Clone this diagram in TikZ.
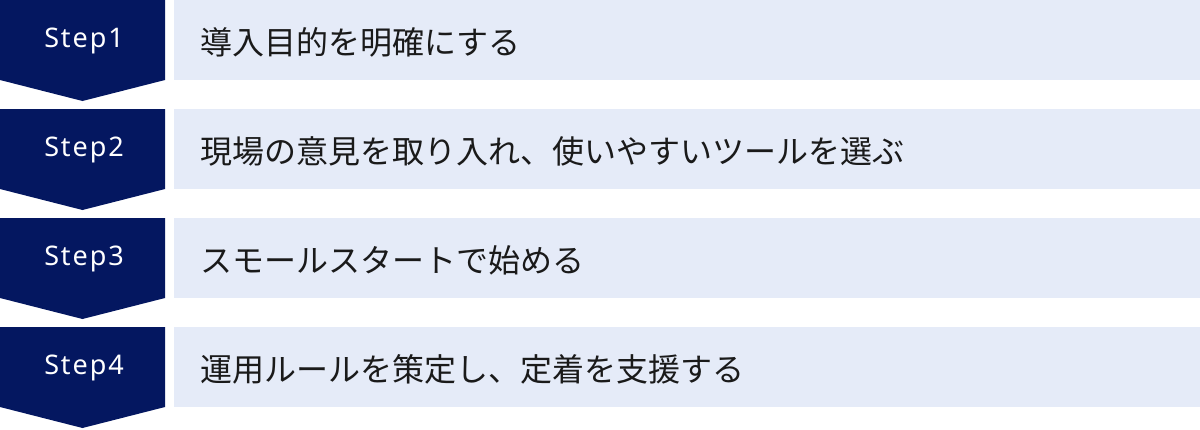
\documentclass[tikz,border=0pt]{standalone}
\usepackage{fontspec}
\newfontfamily\jpfont{Noto Sans CJK JP}
\newfontfamily\stepfont[LetterSpace=7]{Noto Sans}
\definecolor{stepnavy}{RGB}{4,23,96}
\definecolor{barblue}{RGB}{229,235,248}
\definecolor{bartextcol}{RGB}{26,26,26}
\def\rowgap{109}

\begin{document}
\begin{tikzpicture}[
    x=1pt,y=-1pt,
    stepshape/.style={fill=stepnavy},
    steplabel/.style={text=white,font=\stepfont\fontsize{27}{32}\selectfont},
    bar/.style={fill=barblue,anchor=north west,inner sep=0pt,minimum width=1026pt,minimum height=80pt},
    bartext/.style={anchor=west,inner sep=0pt,text=bartextcol,font=\jpfont\fontsize{32}{36}\selectfont}
  ]
  \useasboundingbox (0,0) rectangle (1200,429);

  \foreach \i/\task in {1/導入目的を明確にする,2/現場の意見を取り入れ、使いやすいツールを選ぶ,3/スモールスタートで始める,4/運用ルールを策定し、定着を支援する}{
    \pgfmathsetmacro\top{(\i-1)*\rowgap}
    \fill[stepshape] (0,\top) -- (165,\top) -- (165,\top+80) -- (82.5,\top+101) -- (0,\top+80) -- cycle;
    \node[steplabel] (step\i) at (84,\top+41) {Step\i};
    \node[bar] (bar\i) at (174,\top) {};
    \node[bartext] (task\i) at ([xshift=26pt,yshift=-2pt]bar\i.west) {\task};
  }

\end{tikzpicture}
\end{document}
